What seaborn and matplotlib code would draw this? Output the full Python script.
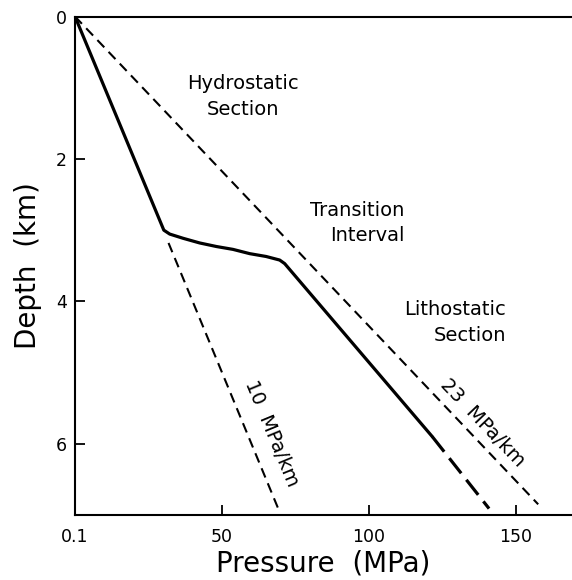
import matplotlib
matplotlib.use("Agg")
import matplotlib.pyplot as plt
import seaborn as sns
import pandas as pd

# Pore-pressure profile with depth (solid line, then dashed extrapolation)
profile_depth_km = [0.0, 3.0, 3.055, 3.115, 3.18, 3.23, 3.27, 3.33, 3.37, 3.42, 3.47, 5.9]
profile_pressure_mpa = [0.0, 30.2, 32.2, 36.8, 42.4, 48.1, 53.7, 59.4, 65.0, 69.6, 71.3, 121.5]
extrap_depth_km = [5.9, 6.91]
extrap_pressure_mpa = [121.5, 140.8]

# Reference gradients
lith_depth_km = [0.0, 6.85]
lith_pressure_mpa = [0.0, 157.5]
hydro_depth_km = [3.18, 6.9]
hydro_pressure_mpa = [31.8, 69.0]

x_ticks = [0, 50, 100, 150]
x_tick_labels = ["0.1", "50", "100", "150"]
y_ticks = [0, 2, 4, 6]

sns.set_theme(style="ticks")
plt.rcParams["font.family"] = ["DejaVu Sans"]
plt.rcParams["text.color"] = "black"
plt.rcParams["axes.labelcolor"] = "black"

fig = plt.figure(figsize=(5.72, 5.80), dpi=100)
ax = fig.add_axes([75 / 572, 1 - 515 / 580, 497 / 572, (515 - 16.5) / 580])

def draw(p, d, **kw):
    df = pd.DataFrame({"pressure": p, "depth": d})
    sns.lineplot(data=df, x="pressure", y="depth", sort=False, ax=ax,
                 color="black", **kw)

draw(profile_pressure_mpa, profile_depth_km, linewidth=2.3, linestyle="-")
draw(extrap_pressure_mpa, extrap_depth_km, linewidth=2.3,
     linestyle=(0, (6.0, 2.6)))
draw(lith_pressure_mpa, lith_depth_km, linewidth=1.5,
     linestyle=(0, (4.8, 3.0)))
draw(hydro_pressure_mpa, hydro_depth_km, linewidth=1.5,
     linestyle=(0, (4.8, 3.0)))

ax.set_xlim(0, 169)
ax.set_ylim(7, 0)
ax.set_xticks(x_ticks)
ax.set_xticklabels(x_tick_labels)
ax.set_yticks(y_ticks)
ax.tick_params(axis="both", direction="in", length=7, width=1.3,
               labelsize=12.5, colors="black")
ax.tick_params(axis="x", pad=9)
ax.tick_params(axis="y", pad=6)

for side in ["left", "bottom", "top"]:
    ax.spines[side].set_linewidth(1.5)
    ax.spines[side].set_color("black")
ax.spines["right"].set_visible(False)

ax.set_xlabel("Pressure  (MPa)", fontsize=20, labelpad=3)
ax.set_ylabel("Depth  (km)", fontsize=20, labelpad=10)

txt = dict(fontsize=14, color="black")
ax.text(57, 1.12, "Hydrostatic\nSection", ha="center", va="center",
        multialignment="center", linespacing=1.45, **txt)
ax.text(112, 2.9, "Transition\nInterval", ha="right", va="center",
        multialignment="right", linespacing=1.45, **txt)
ax.text(146.5, 4.3, "Lithostatic\nSection", ha="right", va="center",
        multialignment="right", linespacing=1.45, **txt)
ax.text(67, 5.86, "10  MPa/km", rotation=-67.5, ha="center", va="center",
        rotation_mode="anchor", **txt)
ax.text(138.5, 5.7, "23  MPa/km", rotation=-46.4, ha="center", va="center",
        rotation_mode="anchor", **txt)

fig.savefig("out.png", dpi=100, facecolor="white")
